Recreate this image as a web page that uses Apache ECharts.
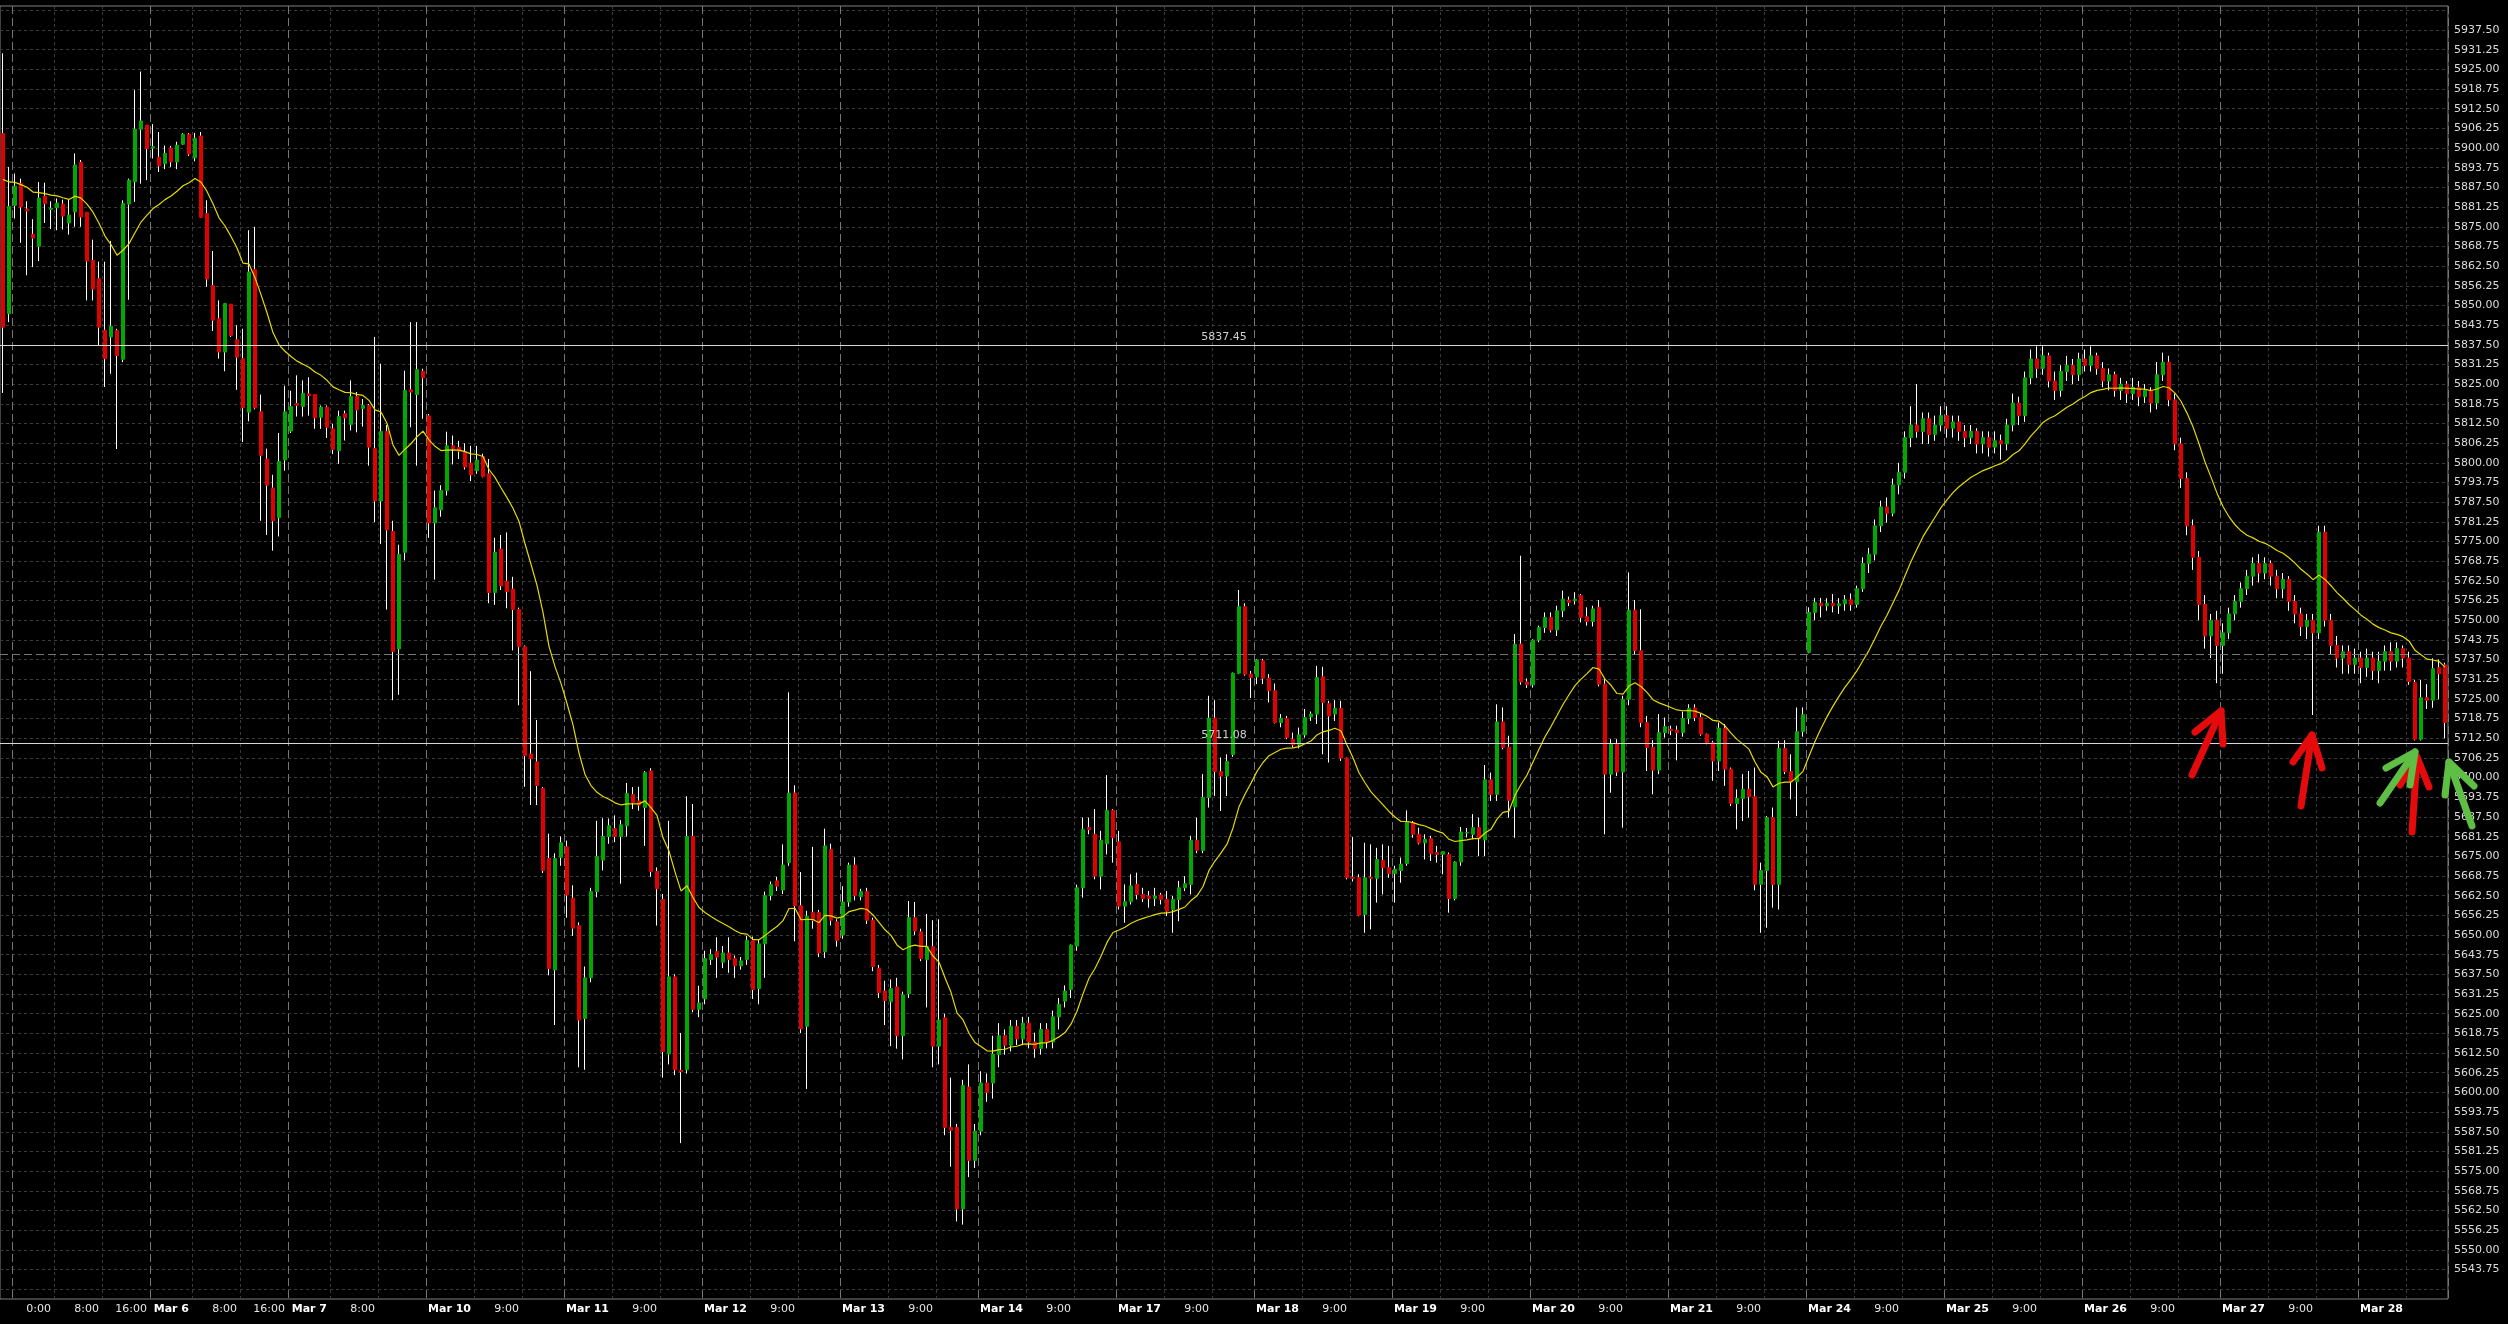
<!DOCTYPE html>
<html><head><meta charset="utf-8">
<script src="https://cdn.jsdelivr.net/npm/echarts/dist/echarts.min.js"></script>
<style>html,body{margin:0;padding:0;background:#000;}#c{width:2508px;height:1324px;}</style>
</head><body><div id="c"></div>
<script>
// ---- hourly OHLC bars, Mar 5 - Mar 28 (23 bars per day) ----
const openP = [
5904.6,5847.4,5881.8,5888.7,5880.6,5872.6,5868.8,5884.7,5880.5,5881.0,
5882.2,5876.2,5879.7,5895.4,5879.6,5864.3,5858.5,5842.1,5840.0,5842.1,
5832.9,5882.2,5889.3,5906.0,5907.3,5900.0,5897.1,5895.0,5900.0,5895.6,
5901.2,5904.4,5896.9,5903.8,5879.2,5856.3,5845.8,5835.2,5850.4,5839.1,
5833.1,5816.1,5861.4,5816.2,5801.2,5792.0,5782.6,5800.9,5810.1,5818.9,
5817.9,5821.9,5821.7,5814.5,5817.7,5810.8,5803.9,5815.6,5812.2,5821.1,
5817.3,5818.2,5804.5,5787.9,5810.0,5778.2,5740.9,5771.6,5823.2,5821.7,
5829.1,5814.9,5780.9,5785.1,5791.2,5805.4,5804.9,5803.4,5799.9,5797.5,
5802.0,5796.5,5758.8,5772.6,5762.4,5759.9,5753.4,5741.6,5707.5,5705.0,
5696.6,5674.3,5638.9,5674.7,5678.0,5661.7,5653.0,5623.5,5636.4,5663.8,
5673.8,5681.3,5683.8,5681.3,5684.7,5694.6,5692.6,5690.5,5702.1,5670.2,
5661.3,5612.2,5636.7,5607.0,5607.2,5681.3,5626.4,5629.7,5642.2,5644.7,
5641.4,5644.3,5642.5,5640.2,5642.2,5648.3,5633.0,5647.2,5662.5,5667.2,
5664.3,5673.0,5695.1,5659.3,5621.0,5657.2,5657.2,5644.7,5677.2,5654.2,
5650.0,5660.5,5672.2,5662.2,5663.8,5654.7,5639.4,5632.2,5628.8,5633.5,
5618.0,5631.3,5655.5,5651.0,5642.2,5646.3,5614.7,5623.7,5588.9,5588.9,
5563.0,5601.7,5578.4,5587.7,5603.0,5603.0,5612.0,5618.0,5615.0,5621.0,
5617.0,5622.0,5616.0,5614.0,5620.0,5616.0,5624.0,5629.0,5632.7,5646.5,
5665.0,5684.1,5682.0,5668.7,5679.0,5689.6,5679.6,5659.2,5660.6,5666.1,
5662.9,5662.4,5661.6,5662.7,5661.3,5658.1,5661.3,5665.0,5666.1,5680.1,
5676.9,5693.7,5718.9,5701.9,5700.5,5707.4,5733.2,5754.3,5732.9,5732.0,
5737.1,5731.6,5727.6,5717.5,5718.8,5712.2,5710.4,5713.6,5719.3,5720.2,
5732.0,5723.5,5720.2,5722.0,5706.2,5668.4,5668.2,5656.5,5668.4,5668.0,
5673.7,5671.4,5669.5,5670.5,5672.7,5685.7,5682.0,5679.3,5680.6,5676.2,
5675.6,5675.6,5661.6,5673.2,5682.4,5682.0,5684.1,5680.2,5699.3,5694.7,
5717.7,5709.6,5690.7,5742.4,5730.4,5729.5,5743.7,5747.7,5750.9,5746.9,
5753.0,5756.4,5756.2,5757.8,5751.1,5749.6,5754.1,5729.7,5701.1,5710.6,
5701.8,5724.9,5753.2,5740.3,5717.5,5709.6,5702.4,5714.3,5715.4,5715.1,
5714.3,5718.8,5722.1,5719.1,5713.8,5711.1,5705.3,5715.7,5702.7,5691.8,
5693.4,5696.3,5693.9,5666.1,5670.5,5687.3,5666.1,5709.3,5701.9,5698.7,
5714.6,5739.8,5752.5,5755.4,5754.6,5755.4,5754.6,5755.2,5756.5,5755.0,
5760,5768,5771,5780,5786,5784,5793,5797,5808,5812,
5810,5814,5809,5812,5815,5811,5813,5810,5808,5810,
5806,5808,5805,5807,5806,5812,5819,5815,5827,5833,
5830,5834,5826,5823,5829,5831,5828,5833,5831,5834,
5830,5826,5828,5823,5825,5822,5824,5821,5823,5819,
5828,5832,5820,5806,5795,5780,5770,5755,5745,5750,
5742,5746,5752,5756,5760,5764,5768,5765,5768,5764,
5760,5763,5756,5752,5748,5750,5746,5778,5750,5742,
5738,5740,5736,5738,5735,5738,5734,5737,5740,5737,
5741,5738,5730.2,5712.2,5725.4,5724.6,5734.9,5735.8
];
const highP = [
5930.1,5894.0,5891.9,5890.3,5883.1,5877.4,5889.2,5889.0,5883.1,5884.0,
5883.6,5883.6,5898.3,5896.2,5879.6,5870.9,5863.9,5863.9,5870.5,5842.6,
5883.4,5890.3,5918.4,5924.3,5907.3,5907.6,5905.1,5900.8,5900.7,5902.0,
5904.8,5904.8,5904.8,5905.1,5883.4,5867.3,5851.6,5850.8,5850.4,5843.7,
5842.6,5873.9,5875.0,5821.7,5804.5,5796.2,5809.5,5824.5,5822.9,5827.8,
5826.2,5827.2,5821.7,5818.2,5818.2,5812.4,5816.6,5816.6,5826.2,5822.5,
5820.3,5818.7,5840.0,5831.5,5812.0,5781.6,5774.0,5829.3,5844.7,5844.7,
5829.9,5815.5,5791.2,5792.9,5809.9,5808.7,5807.0,5806.2,5805.4,5805.4,
5802.9,5801.2,5776.2,5777.1,5777.9,5763.8,5754.0,5742.0,5733.8,5718.3,
5697.0,5682.2,5676.0,5681.3,5680.0,5665.8,5654.0,5640.0,5665.0,5686.3,
5687.1,5687.0,5688.0,5686.5,5698.3,5697.0,5697.1,5702.1,5703.0,5671.5,
5663.0,5686.3,5637.5,5618.9,5694.1,5691.6,5633.9,5645.0,5645.5,5649.3,
5646.5,5649.3,5643.5,5643.0,5649.7,5649.5,5648.5,5663.8,5667.0,5668.5,
5678.8,5727.1,5697.6,5670.0,5657.7,5678.0,5658.0,5683.8,5679.0,5655.0,
5665.5,5673.0,5674.7,5664.7,5665.0,5655.5,5640.5,5635.5,5635.9,5636.4,
5632.0,5660.8,5660.5,5652.0,5656.7,5654.7,5655.0,5625.0,5604.7,5590.0,
5604.0,5608.9,5590.0,5606.7,5606.0,5618.0,5622.0,5620.0,5623.0,5623.0,
5624.0,5624.0,5619.0,5622.0,5622.0,5626.0,5630.0,5634.0,5647.0,5666.0,
5687.3,5687.3,5690.0,5683.1,5700.8,5690.0,5683.1,5666.1,5669.3,5669.8,
5665.0,5664.0,5665.0,5663.4,5664.0,5662.4,5667.2,5668.7,5681.5,5687.3,
5701.1,5726.0,5724.6,5706.4,5707.4,5733.4,5759.6,5755.4,5733.9,5737.7,
5737.7,5732.9,5729.9,5720.2,5719.6,5714.3,5715.9,5721.8,5721.0,5735.5,
5735.2,5724.4,5724.6,5724.4,5706.4,5681.1,5669.3,5679.3,5678.8,5677.7,
5678.8,5678.3,5672.0,5674.6,5689.6,5686.2,5684.1,5682.0,5681.5,5678.3,
5676.7,5676.2,5673.5,5684.3,5684.0,5688.4,5687.3,5704.0,5701.6,5723.3,
5722.3,5713.3,5745.6,5770.5,5731.5,5744.0,5748.3,5752.5,5752.5,5754.6,
5759.4,5757.5,5758.9,5758.3,5754.1,5754.6,5756.4,5731.3,5712.2,5712.2,
5726.0,5765.2,5756.4,5753.5,5719.6,5711.9,5720.2,5719.1,5716.5,5716.5,
5721.0,5723.3,5723.3,5720.2,5714.0,5711.7,5717.5,5717.0,5703.2,5696.3,
5701.1,5702.1,5703.2,5673.0,5687.8,5690.5,5711.7,5711.9,5707.4,5722.3,
5722.3,5754.1,5757.1,5757.1,5757.0,5758.3,5757.0,5758,5758.5,5761,
5770,5773,5782,5788,5789,5795,5800,5810,5818,5825,
5816,5816,5815,5818,5818,5815,5815,5812,5812,5811,
5810,5810,5810,5809,5814,5822,5821,5829,5836,5837,
5837,5835,5829,5831,5834,5833,5835,5836,5837,5835,
5832,5830,5829,5827,5826,5827,5826,5825,5824,5832,
5835,5834,5822,5808,5797,5782,5772,5758,5752,5753,
5749,5754,5758,5762,5766,5770,5771,5770,5769,5766,
5765,5764,5758,5754,5752,5752,5780,5780,5752,5745,
5742,5742,5741,5740,5741,5740,5740,5742,5743,5743,
5742,5740,5731,5731,5729.7,5737.9,5737.5,5736.5
];
const lowP = [
5822.2,5844.7,5877.6,5869.9,5859.6,5862.2,5864.1,5876.2,5874.3,5873.9,
5874.1,5872.5,5875.0,5875.0,5851.6,5851.6,5837.1,5824.1,5828.3,5804.4,
5832.0,5851.8,5882.9,5888.7,5889.8,5896.7,5892.4,5893.3,5894.0,5893.3,
5901.0,5897.5,5895.8,5877.8,5855.9,5841.9,5833.1,5829.1,5840.0,5823.2,
5806.6,5813.2,5817.0,5781.6,5777.1,5772.1,5776.6,5797.5,5809.5,5814.7,
5814.7,5815.0,5810.8,5810.8,5807.9,5802.8,5799.7,5807.1,5810.3,5809.7,
5811.5,5799.1,5781.2,5774.2,5753.4,5724.6,5726.3,5769.0,5811.3,5799.1,
5814.0,5776.2,5762.9,5782.9,5789.6,5799.5,5801.2,5797.9,5794.2,5796.5,
5795.4,5755.4,5754.9,5759.6,5753.8,5740.4,5723.0,5697.1,5691.3,5691.3,
5669.7,5637.2,5621.4,5672.0,5655.5,5649.7,5608.0,5607.2,5635.0,5662.0,
5670.5,5679.0,5679.5,5666.3,5681.3,5690.0,5689.5,5678.3,5668.5,5653.0,
5604.7,5608.9,5605.5,5583.9,5606.0,5625.5,5623.9,5628.0,5640.5,5636.4,
5639.5,5638.0,5636.4,5639.0,5640.5,5629.7,5628.0,5636.4,5661.0,5664.0,
5663.0,5672.0,5648.0,5618.9,5601.1,5652.0,5643.0,5642.7,5653.0,5646.3,
5648.8,5659.0,5661.0,5661.0,5653.5,5638.5,5630.0,5621.4,5614.7,5613.9,
5610.5,5630.0,5650.0,5641.7,5627.0,5608.0,5608.9,5586.4,5576.4,5559.0,
5558.0,5573.1,5576.0,5586.4,5597.0,5598.0,5608.0,5612.0,5613.0,5615.0,
5615.0,5614.0,5611.0,5612.0,5614.0,5614.0,5620.0,5627.0,5630.0,5645.0,
5661.9,5682.0,5667.7,5664.5,5675.6,5673.0,5658.1,5653.9,5659.7,5661.3,
5660.5,5658.7,5659.2,5659.7,5656.0,5650.7,5654.4,5664.0,5662.9,5676.0,
5676.0,5690.5,5694.2,5689.4,5694.2,5706.6,5732.9,5732.4,5725.3,5729.7,
5729.7,5723.9,5717.2,5716.0,5712.2,5709.6,5709.3,5712.7,5718.0,5717.0,
5707.4,5704.8,5718.0,5705.3,5667.7,5667.0,5656.0,5650.7,5651.8,5660.3,
5662.9,5668.2,5660.3,5666.6,5672.0,5680.9,5678.8,5674.0,5673.5,5673.0,
5669.3,5657.1,5661.0,5672.0,5681.0,5680.4,5675.1,5675.1,5692.6,5692.6,
5709.0,5687.3,5680.9,5729.5,5728.5,5728.6,5743.0,5746.0,5746.1,5745.0,
5751.0,5754.5,5755.0,5749.3,5748.3,5748.0,5729.0,5682.0,5695.2,5700.5,
5684.1,5723.0,5739.0,5716.0,5702.1,5694.7,5701.1,5712.7,5713.5,5705.5,
5713.0,5717.0,5718.0,5713.3,5710.6,5699.0,5702.1,5697.4,5691.0,5683.6,
5686.2,5687.3,5664.2,5650.7,5652.3,5658.7,5658.1,5701.1,5693.1,5687.8,
5713.0,5739.5,5750.0,5750.9,5753.0,5752.5,5752.0,5753,5753,5754,
5759,5765,5769,5778,5781,5783,5790,5795,5805,5808,
5806,5806,5807,5810,5808,5808,5807,5805,5806,5803,
5803,5802,5803,5801,5804,5810,5812,5813,5825,5827,
5828,5824,5820,5821,5826,5825,5826,5829,5829,5828,
5824,5823,5821,5820,5819,5820,5818,5819,5816,5817,
5826,5818,5804,5792,5777,5766,5750,5741,5738,5730,
5733,5744,5750,5754,5758,5761,5762,5763,5761,5757,
5757,5753,5749,5745,5744,5719.9,5744,5748,5739,5735,
5733,5733,5733,5730,5732,5731,5730,5734,5734,5735,
5735,5729.5,5711.8,5711.8,5721.8,5722.2,5724.9,5712.5
];
const closeP = [
5843.1,5881.5,5887.9,5881.3,5880.0,5871.4,5884.1,5882.3,5880.9,5882.5,
5878.4,5878.7,5894.6,5878.1,5864.1,5855.2,5843.1,5833.1,5843.4,5834.1,
5882.4,5889.8,5906.0,5908.6,5899.8,5900.4,5894.4,5898.3,5895.6,5900.9,
5904.4,5898.1,5903.1,5878.0,5858.4,5845.3,5835.2,5850.6,5840.5,5833.6,
5817.5,5860.6,5817.5,5802.4,5792.9,5781.6,5800.4,5816.2,5817.9,5818.3,
5822.1,5821.4,5814.3,5817.7,5811.3,5804.3,5814.7,5814.3,5821.1,5816.8,
5818.3,5805.0,5787.9,5810.0,5778.7,5740.1,5770.9,5823.0,5822.5,5829.6,
5827.0,5780.9,5785.7,5791.2,5805.4,5804.5,5803.7,5798.7,5796.2,5800.9,
5795.7,5758.8,5771.6,5760.9,5759.1,5753.4,5741.6,5707.0,5706.0,5697.5,
5670.5,5639.4,5674.3,5679.3,5662.7,5652.2,5623.0,5636.4,5663.8,5675.0,
5681.3,5684.7,5681.3,5685.0,5695.0,5692.1,5691.3,5701.6,5670.2,5664.7,
5613.0,5636.7,5607.2,5606.6,5681.3,5626.4,5628.4,5642.5,5643.8,5643.0,
5644.3,5642.2,5640.2,5641.8,5648.3,5632.7,5647.2,5662.5,5666.0,5665.5,
5672.2,5695.1,5659.3,5620.2,5656.0,5654.7,5644.3,5678.3,5654.7,5648.3,
5660.5,5672.2,5662.5,5663.8,5654.7,5640.0,5631.7,5629.2,5633.0,5618.0,
5631.0,5655.5,5651.3,5642.5,5646.3,5614.7,5623.0,5588.9,5588.0,5563.0,
5602.2,5578.4,5587.7,5603.0,5600.0,5612.2,5618.0,5615.0,5621.0,5617.0,
5622.0,5616.0,5614.0,5620.0,5616.0,5624.0,5628.0,5632.2,5646.8,5665.0,
5683.6,5683.5,5668.7,5680.1,5689.6,5680.9,5659.2,5660.6,5665.6,5662.9,
5661.6,5661.6,5662.4,5661.3,5657.6,5661.3,5665.0,5666.3,5680.1,5676.9,
5693.7,5718.9,5701.9,5700.5,5705.1,5733.2,5754.3,5732.9,5731.8,5737.4,
5731.6,5727.6,5717.5,5718.9,5712.7,5710.4,5713.6,5719.1,5720.2,5731.8,
5723.9,5719.6,5722.0,5706.2,5668.2,5668.0,5656.3,5668.2,5668.0,5674.0,
5671.4,5669.5,5670.9,5672.5,5686.0,5682.0,5679.3,5680.4,5675.8,5675.6,
5676.5,5661.6,5673.2,5682.7,5682.6,5684.1,5680.6,5699.3,5694.7,5717.7,
5709.6,5692.8,5742.4,5730.4,5729.5,5743.7,5747.7,5750.9,5746.9,5753.0,
5756.7,5755.7,5756.7,5750.9,5749.6,5753.6,5729.7,5701.1,5710.6,5701.8,
5724.9,5753.2,5740.3,5717.5,5709.6,5702.4,5714.3,5716.2,5714.9,5714.3,
5718.8,5722.0,5719.1,5713.8,5711.1,5705.3,5715.7,5702.7,5691.8,5693.4,
5696.3,5693.9,5666.1,5670.5,5687.3,5666.1,5709.3,5701.9,5698.7,5714.6,
5720.0,5752.5,5755.7,5754.6,5755.4,5754.6,5755.2,5756.5,5755,5760,
5768,5771,5780,5786,5784,5793,5797,5808,5812,5810,
5814,5809,5812,5815,5811,5813,5810,5808,5810,5806,
5808,5805,5807,5806,5812,5819,5815,5827,5833,5830,
5834,5826,5823,5829,5831,5828,5833,5831,5834,5830,
5826,5828,5823,5825,5822,5824,5821,5823,5819,5828,
5832,5820,5806,5795,5780,5770,5755,5745,5750,5742,
5746,5752,5756,5760,5764,5768,5765,5768,5764,5760,
5763,5756,5752,5748,5750,5746,5778,5750,5742,5738,
5740,5736,5738,5735,5738,5734,5737,5740,5737,5741,
5738,5730.5,5712.2,5725.4,5724.6,5734.6,5733.0,5717.5
];

// ---- time axis: day separators (bar index where each day starts) and tick labels ----
const dayStartBar = [2,25,48,71,94,117,140,163,186,209,232,255,278,301,324,347,370,393];
const gridLineBar = [9,17,32,40,55,63,79,87,102,110,125,133,148,156,171,179,194,202,217,225,240,248,263,271,286,294,309,317,332,340,355,363,378,386,401];
const xTickText = ['0:00','8:00','16:00','Mar 6','8:00','16:00','Mar 7','8:00',
  'Mar 10','9:00','Mar 11','9:00','Mar 12','9:00','Mar 13','9:00','Mar 14','9:00',
  'Mar 17','9:00','Mar 18','9:00','Mar 19','9:00','Mar 20','9:00','Mar 21','9:00',
  'Mar 24','9:00','Mar 25','9:00','Mar 26','9:00','Mar 27','9:00','Mar 28'];
const xTickBar = [8,16,24,31,39,47,54,62,
  78,86,101,109,124,132,147,155,170,178,
  193,201,216,224,239,247,262,270,285,293,
  308,316,331,339,354,362,377,385,400];

// ---- price-axis ticks and horizontal levels ----
const yTickStep = 6.25;
const yTickFirst = 5543.75, yTickLast = 5937.50;
const levelUpper = 5837.45;
const levelLower = 5711.08;
const levelDashed = 5739.25;
const maPeriod = 20;
const maSeed = 5895.0;   // indicator level just before the first visible bar

// ---- build library inputs ----
const cats = openP.map((_, i) => String(i));
const wickData = openP.map((o, i) => [o, closeP[i], lowP[i], highP[i]]);
const bodyData = openP.map((o, i) => [o, closeP[i], Math.min(o, closeP[i]), Math.max(o, closeP[i])]);
const maData = [];
{ let e = maSeed; const k = 2 / (maPeriod + 1);
  closeP.forEach(c => { e = e + k * (c - e); maData.push(+e.toFixed(2)); }); }

const sepSet = new Set(dayStartBar);
const dimSet = new Set(gridLineBar);
const tickMap = new Map(xTickBar.map((b, k) => [b, xTickText[k]]));

const FONT = 'DejaVu Sans';
const chart = echarts.init(document.getElementById('c'), null, {renderer: 'canvas'});

function arrow(tail, tip, wl, wr, color) {
  const st = {stroke: color, lineWidth: 7, lineCap: 'round', lineJoin: 'round', fill: null};
  return [
    {type: 'polyline', z: 100, silent: true, shape: {points: [tail, tip]}, style: st},
    {type: 'polyline', z: 100, silent: true, shape: {points: [wl, tip, wr]}, style: st}
  ];
}
const RED = '#e50a0c', GREEN = '#5fbf45';

chart.setOption({
  animation: false,
  backgroundColor: '#000000',
  textStyle: {fontFamily: FONT},
  grid: {left: 0, right: 60, top: 6, bottom: 25, show: true, borderColor: '#808080', borderWidth: 1,
         backgroundColor: 'transparent', containLabel: false, outerBoundsMode: 'none'},
  xAxis: [{
    type: 'category', data: cats, boundaryGap: true, position: 'bottom',
    axisLine: {show: false}, axisTick: {show: false},
    axisLabel: {
      show: true, interval: (idx) => tickMap.has(idx), align: 'right', margin: 5,
      formatter: (v, idx) => { const t = tickMap.get(idx) || ''; return t.startsWith('Mar') ? '{d|' + t + '}' : '{t|' + t + '}'; },
      rich: {d: {fontFamily: FONT, fontSize: 11, fontWeight: 'bold', color: '#ffffff'},
             t: {fontFamily: FONT, fontSize: 11, color: '#e6e6e6'}}
    },
    splitLine: {show: true, interval: (idx) => dimSet.has(idx), lineStyle: {color: '#3b3b3b', width: 1, type: [3, 3]}}
  }, {
    type: 'category', data: cats, boundaryGap: true, position: 'top', gridIndex: 0,
    axisLine: {show: false}, axisTick: {show: false}, axisLabel: {show: false},
    splitLine: {show: true, interval: (idx) => sepSet.has(idx), lineStyle: {color: '#767676', width: 1, type: [8, 4]}}
  }],
  yAxis: {
    type: 'value', position: 'right', min: 5534.375, max: 5945.13, interval: yTickStep / 2,
    axisLine: {show: false}, axisTick: {show: false},
    axisLabel: {
      color: '#dcdcdc', fontFamily: FONT, fontSize: 11, margin: 6,
      formatter: (v) => {
        const r = v / yTickStep;
        if (Math.abs(r - Math.round(r)) > 1e-6) return '';
        if (v < yTickFirst - 1e-6 || v > yTickLast + 1e-6) return '';
        return v.toFixed(2);
      }
    },
    splitLine: {show: true, lineStyle: {color: ['rgba(0,0,0,0)', '#3b3b3b'], width: 1, type: [3, 3]}}
  },
  series: [{
    type: 'candlestick', name: 'wick', data: wickData, barWidth: 1, z: 2,
    itemStyle: {color: '#ffffff', color0: '#ffffff', borderColor: '#ffffff', borderColor0: '#ffffff', borderWidth: 1}
  }, {
    type: 'candlestick', name: 'body', data: bodyData, barWidth: 3, z: 3,
    itemStyle: {color: '#00a800', color0: '#e00000', borderColor: '#00a800', borderColor0: '#e00000', borderWidth: 1}
  }, {
    type: 'line', name: 'MA', data: maData, showSymbol: false, symbol: 'none', z: 4,
    lineStyle: {color: '#e3da00', width: 1.2},
    markLine: {
      symbol: 'none', silent: true, animation: false, precision: 2,
      data: [
        {yAxis: levelUpper, lineStyle: {color: '#d8d8d8', width: 1, type: 'solid'},
         label: {show: true, position: 'insideMiddleTop', distance: 2, formatter: levelUpper.toFixed(2), color: '#cfcfcf', fontSize: 11, fontFamily: FONT}},
        {yAxis: levelLower, lineStyle: {color: '#d8d8d8', width: 1, type: 'solid'},
         label: {show: true, position: 'insideMiddleTop', distance: 2, formatter: levelLower.toFixed(2), color: '#cfcfcf', fontSize: 11, fontFamily: FONT}},
        {yAxis: levelDashed, lineStyle: {color: '#767676', width: 1, type: [8, 4]}, label: {show: false}}
      ]
    }
  }],
  graphic: [].concat(
    arrow([2192,775],[2221,711],[2195,732],[2223,744], RED),
    arrow([2301,806],[2312,735],[2293,762],[2322,768], RED),
    arrow([2412,832],[2417,757],[2400,785],[2429,787], RED),
    arrow([2380,803],[2415,752],[2386,768],[2410,785], GREEN),
    arrow([2472,826],[2449,762],[2445,795],[2474,786], GREEN)
  )
});
</script>
</body></html>
